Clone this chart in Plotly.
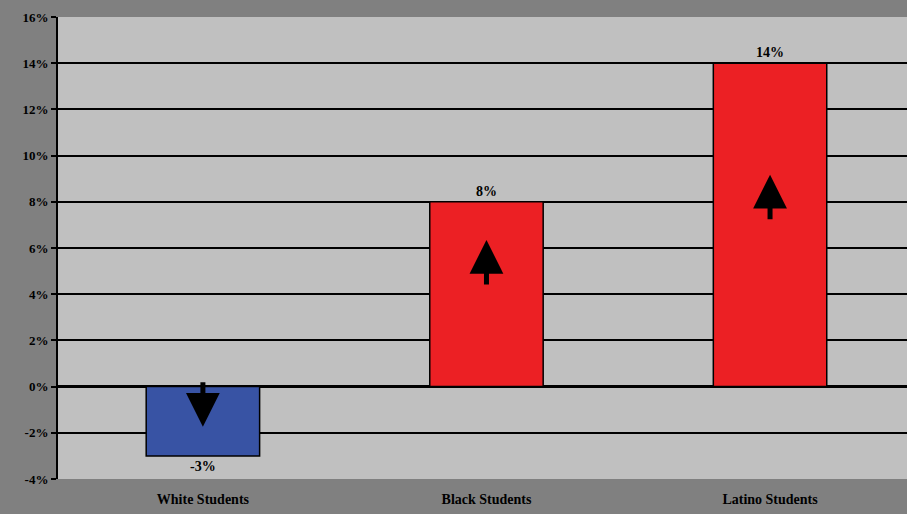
import plotly.graph_objects as go

categories = ["White Students", "Black Students", "Latino Students"]
values = [-0.03, 0.08, 0.14]
bar_colors = ["#3853a4", "#ec2024", "#ec2024"]
tick_vals = [-0.04, -0.02, 0, 0.02, 0.04, 0.06, 0.08, 0.10, 0.12, 0.14, 0.16]
tick_text = ["-4%", "-2%", "0%", "2%", "4%", "6%", "8%", "10%", "12%", "14%", "16%"]
arrow_tips = [-0.0174, 0.0635, 0.0917]
arrow_tails_px = [-46, 46, 46]

serif = "Liberation Serif"

fig = go.Figure()
fig.add_trace(go.Bar(
    x=categories, y=values,
    marker=dict(color=bar_colors, line=dict(color="black", width=1.5)),
    width=0.4,
    text=[f"{v * 100:.0f}%" for v in values],
    textposition="outside",
    textfont=dict(family=serif, size=14, color="black", weight="bold"),
    cliponaxis=False,
))

for c, tip, tail in zip(categories, arrow_tips, arrow_tails_px):
    fig.add_annotation(
        x=c, y=tip, ax=0, ay=tail, text="",
        showarrow=True, arrowhead=2, arrowwidth=5, arrowsize=1.35,
        arrowcolor="black", standoff=0,
    )

fig.update_layout(
    width=907, height=514,
    margin=dict(l=58, r=0, t=17, b=35),
    paper_bgcolor="#808080",
    plot_bgcolor="#c0c0c0",
    showlegend=False,
    xaxis=dict(
        range=[-0.511, 2.483],
        showgrid=False, showline=False, ticks="",
        tickfont=dict(family=serif, size=14, color="black", weight="bold"),
        ticklabelstandoff=10,
    ),
    yaxis=dict(
        range=[-0.04, 0.16], tickvals=tick_vals, ticktext=tick_text,
        showgrid=True, gridcolor="black", gridwidth=2,
        zeroline=True, zerolinecolor="black", zerolinewidth=3,
        showline=True, linecolor="black", linewidth=2,
        ticks="outside", ticklen=5, tickcolor="black", tickwidth=2,
        tickfont=dict(family=serif, size=13, color="black", weight="bold"),
    ),
)

fig.write_html("out.html", config={"displayModeBar": False},
               post_script="document.body.style.margin='0';")
